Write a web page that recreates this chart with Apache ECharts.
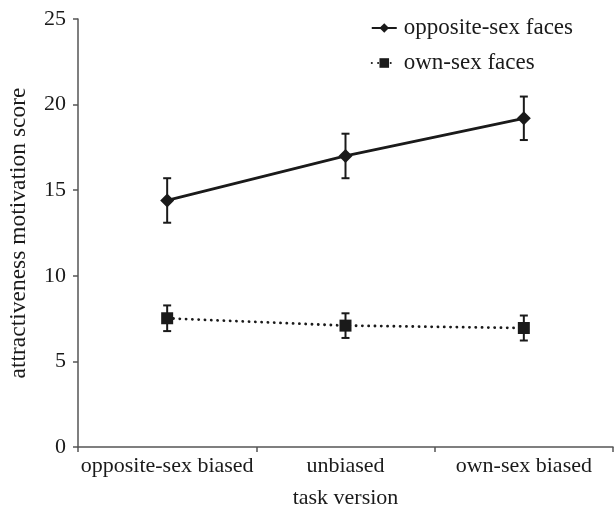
<!DOCTYPE html>
<html>
<head>
<meta charset="utf-8">
<script src="https://cdn.jsdelivr.net/npm/echarts@6/dist/echarts.min.js"></script>
<style>
  html, body { margin: 0; padding: 0; background: #fff; }
  #chart { width: 614px; height: 513px; }
</style>
</head>
<body>
<div id="chart"></div>
<script>
const categories = ['opposite-sex biased', 'unbiased', 'own-sex biased'];
const oppositeMeans = [14.4, 17.0, 19.2];
const oppositeErr = [1.3, 1.3, 1.27];
const ownMeans = [7.52, 7.09, 6.95];
const ownErr = [0.75, 0.72, 0.73];
const yTicks = [0, 5, 10, 15, 20, 25];

const font = 'Liberation Serif';
const ink = '#1a1a1a';
const axisColor = '#555';

const errorSeries = (means, errs, name) => ({
  type: 'custom',
  name: name + ' err',
  z: 3,
  data: means.map((m, i) => [i, m - errs[i], m + errs[i]]),
  renderItem: (params, api) => {
    const lo = api.coord([api.value(0), api.value(1)]);
    const hi = api.coord([api.value(0), api.value(2)]);
    const cap = 4;
    const style = { stroke: ink, lineWidth: 2 };
    return {
      type: 'group',
      children: [
        { type: 'line', shape: { x1: lo[0], y1: lo[1], x2: hi[0], y2: hi[1] }, style },
        { type: 'line', shape: { x1: hi[0] - cap, y1: hi[1], x2: hi[0] + cap, y2: hi[1] }, style },
        { type: 'line', shape: { x1: lo[0] - cap, y1: lo[1], x2: lo[0] + cap, y2: lo[1] }, style }
      ]
    };
  }
});

const chart = echarts.init(document.getElementById('chart'));
chart.setOption({
  animation: false,
  textStyle: { fontFamily: font },
  grid: { left: 78, right: 1, top: 19, bottom: 66, outerBoundsMode: 'none', containLabel: false },
  legend: {
    orient: 'vertical',
    right: 36,
    top: 11,
    itemWidth: 25,
    itemHeight: 12,
    itemGap: 11,
    textStyle: { fontFamily: font, fontSize: 23, color: ink, lineHeight: 24, padding: [0, 0, 0, 2] },
    data: ['opposite-sex faces', 'own-sex faces']
  },
  xAxis: {
    type: 'category',
    data: categories,
    boundaryGap: true,
    name: 'task version',
    nameLocation: 'middle',
    nameGap: 40,
    nameTextStyle: { fontFamily: font, fontSize: 22, color: ink },
    axisLine: { lineStyle: { color: axisColor, width: 1.5 } },
    axisTick: { show: true, length: 5, lineStyle: { color: axisColor, width: 1.5 } },
    axisLabel: { fontFamily: font, fontSize: 22, color: ink, margin: 8, interval: 0 }
  },
  yAxis: {
    type: 'value',
    min: 0,
    max: 25,
    interval: 5,
    name: 'attractiveness motivation score',
    nameLocation: 'middle',
    nameGap: 47,
    nameTextStyle: { fontFamily: font, fontSize: 23.5, color: ink },
    axisLine: { show: true, lineStyle: { color: axisColor, width: 1.5 } },
    axisTick: { show: true, length: 5, lineStyle: { color: axisColor, width: 1.5 } },
    axisLabel: {
      fontFamily: font, fontSize: 22, color: ink, margin: 12,
      formatter: (v) => (yTicks.includes(v) ? String(v) : '')
    },
    splitLine: { show: false }
  },
  series: [
    {
      name: 'opposite-sex faces',
      type: 'line',
      data: oppositeMeans,
      symbol: 'diamond',
      symbolSize: 14,
      z: 4,
      lineStyle: { color: ink, width: 2.8, type: 'solid' },
      itemStyle: { color: ink }
    },
    {
      name: 'own-sex faces',
      type: 'line',
      data: ownMeans,
      symbol: 'rect',
      symbolSize: 12,
      z: 4,
      lineStyle: { color: ink, width: 2.8, type: [0.1, 6.2], cap: 'round' },
      itemStyle: { color: ink }
    },
    errorSeries(oppositeMeans, oppositeErr, 'opposite'),
    errorSeries(ownMeans, ownErr, 'own')
  ]
});
</script>
</body>
</html>
